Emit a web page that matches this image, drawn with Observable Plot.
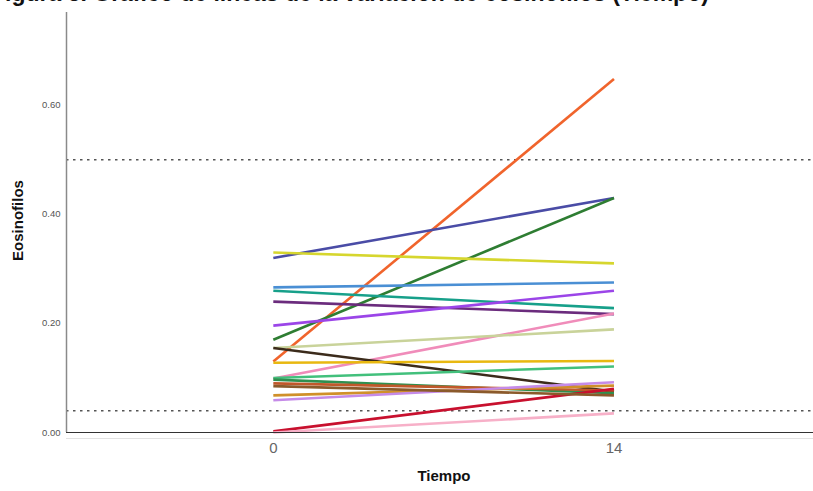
<!DOCTYPE html>
<html>
<head>
<meta charset="utf-8">
<script src="https://cdn.jsdelivr.net/npm/d3@7"></script>
<script src="https://cdn.jsdelivr.net/npm/@observablehq/plot@0.6"></script>
<style>
  html, body { margin: 0; padding: 0; background: #fff; }
  #wrap { position: relative; width: 813px; height: 491px; overflow: hidden; }
  #titulo {
    position: absolute; left: -9px; top: -18px;
    font: bold 23px/23px Arial, "Liberation Sans", sans-serif;
    color: #111; white-space: nowrap;
  }
  #chart { position: absolute; left: 0; top: 0; }
</style>
</head>
<body>
<div id="wrap">
  <div id="chart"></div>
  <div id="titulo">Figura 3. Gráfico de líneas de la variación de eosinófilos (Tiempo)</div>
</div>
<script>
// Eosinophil counts per patient at day 0 and day 14
const pacientes = ["P01","P02","P03","P04","P05","P06","P07","P08","P09","P10",
                   "P11","P12","P13","P14","P15","P16","P17","P18","P19","P20"];
const eosDia0  = [0.130, 0.320, 0.170, 0.330, 0.266, 0.260, 0.240, 0.196, 0.099, 0.155,
                  0.155, 0.128, 0.100, 0.097, 0.090, 0.068, 0.059, 0.002, 0.000, 0.085];
const eosDia14 = [0.648, 0.430, 0.430, 0.310, 0.275, 0.228, 0.217, 0.260, 0.218, 0.189,
                  0.075, 0.131, 0.121, 0.072, 0.077, 0.086, 0.092, 0.080, 0.035, 0.068];
const tiempos = [0, 14];
const yTicks = [0, 0.2, 0.4, 0.6];
const referencias = [0.5, 0.04];

// One colour per patient line
const paleta = ["#f0642c","#4a4ca6","#2e7d32","#d6d62e","#4a8fd4","#17a08a","#6b2c7d","#9b45e8",
                "#f08cba","#c9d39a","#3b2b1b","#e8b810","#42c07c","#2f8f4f","#c0582a","#d0902a",
                "#c58be8","#c8102e","#f7b0c8","#8b5a2b"];

const filas = pacientes.flatMap((id, i) => [
  {id, tiempo: tiempos[0], eos: eosDia0[i]},
  {id, tiempo: tiempos[1], eos: eosDia14[i]}
]);

const chart = Plot.plot({
  width: 813,
  height: 491,
  marginLeft: 66,
  marginRight: 0,
  marginTop: 12,
  marginBottom: 59,
  style: {fontFamily: "Arial, 'Liberation Sans', sans-serif", background: "#fff"},
  x: {domain: [-8.5, 22.2]},
  y: {domain: [0, 0.77]},
  color: {domain: pacientes, range: paleta},
  marks: [
    Plot.ruleY(referencias, {stroke: "#555", strokeWidth: 1.6, strokeDasharray: "2.5,4.5"}),
    Plot.ruleY([-0.011], {stroke: "#e2e2e2", strokeWidth: 1}),
    Plot.line(filas, {x: "tiempo", y: "eos", z: "id", stroke: "id", strokeWidth: 2.6, strokeLinecap: "butt"}),
    Plot.ruleX([-8.5], {stroke: "#8a8a8a", strokeWidth: 1.5}),
    Plot.ruleY([0], {stroke: "#333", strokeWidth: 1}),
    Plot.axisY({ticks: yTicks, tickFormat: d3.format(".2f"), tickSize: 0, tickPadding: 6,
                fontSize: 9.5, fill: "#555", label: null}),
    Plot.axisX({ticks: tiempos, tickFormat: d => String(d), tickSize: 0, tickPadding: 10,
                fontSize: 15, fill: "#666", label: null}),
    Plot.text(["Eosinofilos"], {frameAnchor: "left", textAnchor: "middle", dx: -48, dy: -2,
                rotate: -90, fontSize: 15, fontWeight: "bold", fill: "#111"}),
    Plot.text(["Tiempo"], {frameAnchor: "bottom", dy: 48, fontSize: 15, fontWeight: "bold",
                fill: "#111", dx: 4})
  ]
});
document.getElementById("chart").append(chart);
</script>
</body>
</html>
